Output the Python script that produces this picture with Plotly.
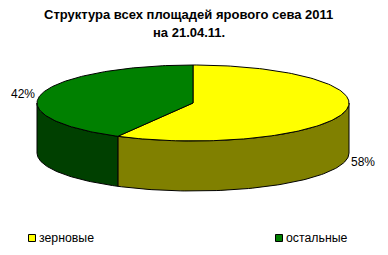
import numpy as np
import plotly.graph_objects as go

# Data
categories = ["зерновые", "остальные"]
shares = [58, 42]
top_colors = ["#FFFF00", "#008000"]
side_colors = ["#808000", "#004000"]
title_lines = ["Структура всех площадей ярового сева 2011", "на 21.04.11."]

W, H = 388, 255
cx, cy, rx, ry, depth = 193, 103, 156, 38, 50


def pt(theta_deg, dy=0.0):
    t = np.radians(theta_deg)
    return cx + rx * np.sin(t), cy - ry * np.cos(t) + dy


fig = go.Figure()

total = sum(shares)
start = 0.0
slices = []
for name, v, tc, sc in zip(categories, shares, top_colors, side_colors):
    span = 360.0 * v / total
    slices.append((name, v, start, start + span, tc, sc))
    start += span

# Front walls (visible half: 90..270 degrees)
for name, v, a0, a1, tc, sc in slices:
    lo, hi = max(a0, 90), min(a1, 270)
    if hi <= lo:
        continue
    th = np.linspace(lo, hi, 80)
    xs_t, ys_t = pt(th)
    xs_b, ys_b = pt(th[::-1], depth)
    xs = np.concatenate([xs_t, xs_b, xs_t[:1]])
    ys = np.concatenate([ys_t, ys_b, ys_t[:1]])
    fig.add_trace(go.Scatter(x=xs, y=ys, mode="lines", fill="toself",
                             fillcolor=sc, line=dict(color="black", width=1),
                             hoverinfo="skip", showlegend=False))

# Top faces
for name, v, a0, a1, tc, sc in slices:
    th = np.linspace(a0, a1, 150)
    xs_a, ys_a = pt(th)
    xs = np.concatenate([[cx], xs_a, [cx]])
    ys = np.concatenate([[cy], ys_a, [cy]])
    fig.add_trace(go.Scatter(x=xs, y=ys, mode="lines", fill="toself",
                             fillcolor=tc, line=dict(color="black", width=1),
                             hoverinfo="skip", showlegend=False))

# Percentage labels
for name, v, a0, a1, tc, sc in slices:
    mid = (a0 + a1) / 2
    t = np.radians(mid)
    lx = cx + (rx + 20) * np.sin(t)
    ly = cy - ry * np.cos(t) + (depth if np.cos(t) < 0 else 0)
    fig.add_annotation(x=lx, y=ly, text=f"{v}%", showarrow=False,
                       font=dict(family="Liberation Sans", size=12, color="black"),
                       xanchor="center", yanchor="middle")

# Legend
legend_x = [32, 279]
legend_y = 238
for name, tc, lxp in zip(categories, top_colors, legend_x):
    fig.add_trace(go.Scatter(x=[lxp], y=[legend_y], mode="markers",
                             marker=dict(symbol="square", size=7, color=tc,
                                         line=dict(color="black", width=1)),
                             hoverinfo="skip", showlegend=False))
    fig.add_annotation(x=lxp + 5, y=legend_y, text=name, showarrow=False,
                       font=dict(family="Liberation Sans", size=12.3, color="black"),
                       xanchor="left", yanchor="middle")

# Title
fig.add_annotation(x=188, y=14, text=f"<b>{title_lines[0]}</b>", showarrow=False,
                   font=dict(family="Liberation Sans", size=13, color="black"),
                   xanchor="center", yanchor="middle")
fig.add_annotation(x=189, y=32, text=f"<b>{title_lines[1]}</b>", showarrow=False,
                   font=dict(family="Liberation Sans", size=13, color="black"),
                   xanchor="center", yanchor="middle")

fig.update_layout(
    width=W, height=H,
    margin=dict(l=0, r=0, t=0, b=0),
    paper_bgcolor="white", plot_bgcolor="white",
    xaxis=dict(range=[0, W], visible=False, fixedrange=True),
    yaxis=dict(range=[H, 0], visible=False, fixedrange=True),
    showlegend=False,
)

fig.write_html("out.html")
